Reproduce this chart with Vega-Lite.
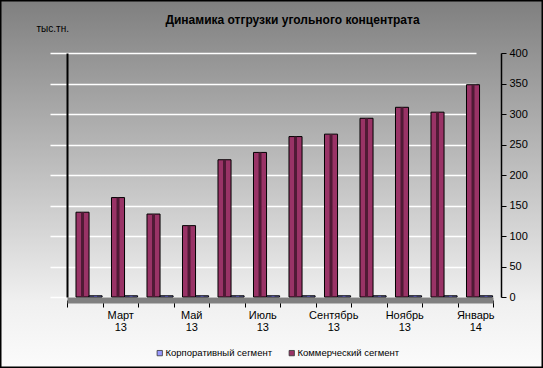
{
  "$schema": "https://vega.github.io/schema/vega-lite/v6.json",
  "width": 543,
  "height": 368,
  "autosize": {"type": "none"},
  "padding": 0,
  "background": "#ffffff",
  "title": {
    "text": "Динамика отгрузки угольного концентрата",
    "fontSize": 12,
    "fontWeight": "bold",
    "color": "#000000",
    "anchor": "middle",
    "frame": "group",
    "offset": 0,
    "dy": 36,
    "dx": 21,
    "baseline": "alphabetic"
  },
  "config": {
    "font": "Liberation Sans",
    "view": {
      "fill": {
        "gradient": "linear",
        "x1": 0, "y1": 0, "x2": 0, "y2": 1,
        "stops": [
          {"offset": 0, "color": "#7f7f7f"},
          {"offset": 0.82, "color": "#f0f0f0"},
          {"offset": 1, "color": "#fbfbfb"}
        ]
      },
      "stroke": "#000000",
      "strokeWidth": 3
    }
  },
  "data": {
    "values": [
      {"month": "Февраль 13", "segment": "Коммерческий сегмент", "value": 139},
      {"month": "Февраль 13", "segment": "Корпоративный сегмент", "value": 2},
      {"month": "Март 13", "segment": "Коммерческий сегмент", "value": 163},
      {"month": "Март 13", "segment": "Корпоративный сегмент", "value": 2},
      {"month": "Апрель 13", "segment": "Коммерческий сегмент", "value": 136},
      {"month": "Апрель 13", "segment": "Корпоративный сегмент", "value": 2},
      {"month": "Май 13", "segment": "Коммерческий сегмент", "value": 117},
      {"month": "Май 13", "segment": "Корпоративный сегмент", "value": 2},
      {"month": "Июнь 13", "segment": "Коммерческий сегмент", "value": 225},
      {"month": "Июнь 13", "segment": "Корпоративный сегмент", "value": 2},
      {"month": "Июль 13", "segment": "Коммерческий сегмент", "value": 237},
      {"month": "Июль 13", "segment": "Корпоративный сегмент", "value": 2},
      {"month": "Август 13", "segment": "Коммерческий сегмент", "value": 263},
      {"month": "Август 13", "segment": "Корпоративный сегмент", "value": 2},
      {"month": "Сентябрь 13", "segment": "Коммерческий сегмент", "value": 267},
      {"month": "Сентябрь 13", "segment": "Корпоративный сегмент", "value": 2},
      {"month": "Октябрь 13", "segment": "Коммерческий сегмент", "value": 293},
      {"month": "Октябрь 13", "segment": "Корпоративный сегмент", "value": 2},
      {"month": "Ноябрь 13", "segment": "Коммерческий сегмент", "value": 311},
      {"month": "Ноябрь 13", "segment": "Корпоративный сегмент", "value": 2},
      {"month": "Декабрь 13", "segment": "Коммерческий сегмент", "value": 303},
      {"month": "Декабрь 13", "segment": "Корпоративный сегмент", "value": 2},
      {"month": "Январь 14", "segment": "Коммерческий сегмент", "value": 348},
      {"month": "Январь 14", "segment": "Корпоративный сегмент", "value": 2}
    ]
  },
  "encoding": {
    "x": {
      "field": "month",
      "type": "ordinal",
      "sort": null,
      "scale": {"range": [67, 493], "paddingInner": 0, "paddingOuter": 0},
      "axis": {
        "title": null,
        "orient": "bottom",
        "offset": -68,
        "domainColor": "#808080",
        "domainWidth": 6,
        "tickBand": "extent",
        "tickColor": "#000000",
        "tickSize": 7,
        "labelExpr": "test(/^(Март|Май|Июль|Сентябрь|Ноябрь|Январь)/, datum.value) ? split(datum.value, ' ') : ''",
        "labelAngle": 0,
        "labelFontSize": 11,
        "labelColor": "#000000",
        "labelPadding": 2,
        "labelLineHeight": 12,
        "labelBaseline": "top",
        "labelOverlap": false,
        "grid": false
      }
    },
    "xOffset": {
      "field": "segment",
      "type": "nominal",
      "sort": ["Коммерческий сегмент", "Корпоративный сегмент"],
      "scale": {"paddingInner": 0, "paddingOuter": 0.36, "align": 0.957}
    }
  },
  "layer": [
    {
      "mark": {"type": "bar", "stroke": "#000000", "strokeWidth": 1},
      "encoding": {
        "y": {
          "field": "value",
          "type": "quantitative",
          "scale": {"domain": [0, 400], "range": [297, 53], "nice": false, "zero": true},
          "axis": {
            "orient": "right",
            "offset": -42,
            "values": [0, 50, 100, 150, 200, 250, 300, 350, 400],
            "title": null,
            "domainColor": "#000000",
            "domainWidth": 1.5,
            "tickColor": "#000000",
            "tickSize": 5,
            "labelFontSize": 11,
            "labelColor": "#000000",
            "labelPadding": 3,
            "labelFlush": false,
            "grid": true,
            "gridColor": "#ffffff",
            "gridWidth": 1.5
          }
        },
        "color": {
          "field": "segment",
          "type": "nominal",
          "scale": {
            "domain": ["Корпоративный сегмент", "Коммерческий сегмент"],
            "range": ["#9999ff", "#993366"]
          },
          "legend": {
            "title": null,
            "orient": "none",
            "legendX": 155,
            "legendY": 348,
            "direction": "horizontal",
            "symbolType": "square",
            "symbolSize": 28,
            "symbolStrokeColor": "#333333",
            "symbolStrokeWidth": 0.8,
            "labelFontSize": 9.5,
            "labelColor": "#000000",
            "labelOffset": 1,
            "columnPadding": 14
          }
        }
      }
    },
    {
      "mark": {"type": "bar", "width": 3, "xOffset": 5},
      "encoding": {
        "y": {
          "field": "value",
          "type": "quantitative",
          "axis": {
            "orient": "left",
            "offset": -67,
            "domainColor": "#000000",
            "domainWidth": 2,
            "ticks": false,
            "labels": false,
            "grid": false,
            "title": "тыс.тн.",
            "titleAngle": 0,
            "titleX": -31,
            "titleY": 31,
            "titleAlign": "left",
            "titleBaseline": "alphabetic",
            "titleFontSize": 10,
            "titleFontWeight": "normal",
            "titleColor": "#000000"
          }
        },
        "fill": {
          "condition": {"test": "datum.segment === 'Коммерческий сегмент'", "value": "#4f1a35"},
          "value": "#4d4d99"
        }
      }
    }
  ],
  "resolve": {"axis": {"y": "independent"}}
}
